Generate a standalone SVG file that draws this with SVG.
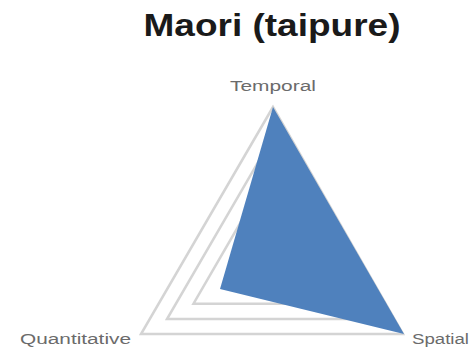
<svg xmlns="http://www.w3.org/2000/svg" width="470" height="348" viewBox="0 0 470 348">
<style>
.grid{fill:none;stroke:#d4d4d4;stroke-width:2.5;stroke-linejoin:miter}
.lbl{font-family:"Liberation Sans",Arial,sans-serif;font-size:14px;fill:#6b6b6b}
.title{font-family:"Liberation Sans",Arial,sans-serif;font-size:31px;font-weight:bold;fill:#1a1a1a}
</style>
<rect width="470" height="348" fill="#ffffff"/>
<text class="title" x="272" y="36" text-anchor="middle" textLength="257" lengthAdjust="spacingAndGlyphs">Maori (taipure)</text>
<g id="grid">
<polygon class="grid" points="273,107 141,334 403,334"/>
<polygon class="grid" points="272.5,137.3 167,319 377,319"/>
<polygon class="grid" points="272.4,167.5 193.5,303.7 350.7,303.7"/>
</g>
<g id="series">
<polygon points="273,107 220,289 404,334" fill="#4f81bd"/>
</g>
<g id="labels">
<text class="lbl" x="273" y="91" text-anchor="middle" textLength="86" lengthAdjust="spacingAndGlyphs">Temporal</text>
<text class="lbl" x="20" y="344" textLength="111" lengthAdjust="spacingAndGlyphs">Quantitative</text>
<text class="lbl" x="412" y="344" textLength="57" lengthAdjust="spacingAndGlyphs">Spatial</text>
</g>
</svg>
